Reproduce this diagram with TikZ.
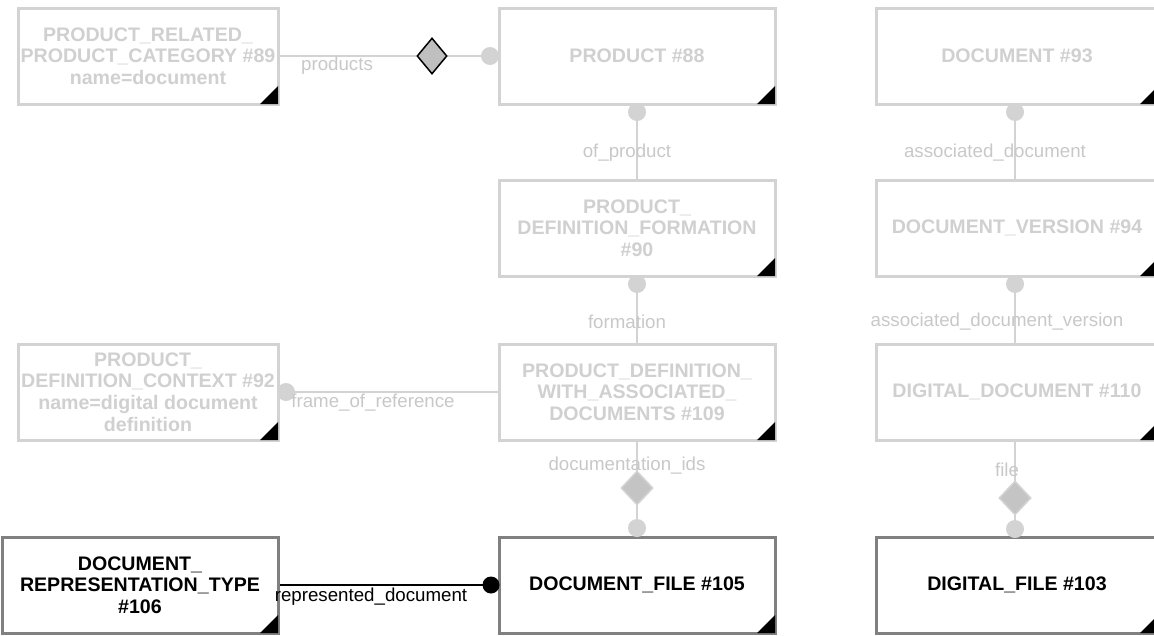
\documentclass[tikz,border=0pt]{standalone}
\usepackage{fontspec}
\setmainfont{Liberation Sans}
\usetikzlibrary{shapes.geometric}
\definecolor{lite}{HTML}{D3D3D3}
\definecolor{litetxt}{HTML}{D0D0D0}
\definecolor{lbl}{HTML}{C8C8C8}
\definecolor{darkb}{HTML}{808080}
\tikzset{
  ent/.style={draw, line width=3pt, fill=white, minimum height=96pt, inner sep=0pt, align=center,
    font=\fontsize{19.6pt}{21.7pt}\selectfont\bfseries},
  faded/.style={ent, draw=lite, text=litetxt},
  solid box/.style={ent, draw=darkb, text=black},
  conn/.style={draw=lite, line width=2pt},
  bconn/.style={draw=black, line width=2pt},
  lab/.style={font=\fontsize{18.7pt}{20pt}\selectfont, text=lbl, inner sep=0pt},
  blab/.style={lab, text=black},
  dot/.style={circle, fill=lite, minimum size=18pt, inner sep=0pt},
  bdot/.style={circle, fill=black, minimum size=17pt, inner sep=0pt},
  dmd/.style={diamond, fill=black!25, draw=black, line width=1.5pt, minimum width=30pt, minimum height=36pt, inner sep=0pt},
  gdmd/.style={diamond, fill=black!23, draw=lite, line width=1.5pt, minimum width=32pt, minimum height=34pt, inner sep=0pt},
}
\begin{document}
\begin{tikzpicture}[x=1pt,y=-1pt]
\useasboundingbox (0,0) rectangle (1154,635);
% connectors (under boxes)
\coordinate (c89) at (278,56);
\coordinate (c88) at (499,56);
\draw[conn] (c89) -- (c88);
\coordinate (a88) at (637,104);
\coordinate (a90t) at (637,180);
\draw[conn] (a88) -- (a90t);
\coordinate (a90b) at (637,276);
\coordinate (a109t) at (637,344);
\draw[conn] (a90b) -- (a109t);
\coordinate (c92) at (278,392);
\coordinate (c109) at (499,392);
\draw[conn] (c92) -- (c109);
\coordinate (a109b) at (637,440);
\coordinate (a105t) at (637,537);
\draw[conn] (a109b) -- (a105t);
\coordinate (a93) at (1015,104);
\coordinate (a94t) at (1015,180);
\draw[conn] (a93) -- (a94t);
\coordinate (a94b) at (1015,276);
\coordinate (a110t) at (1015,344);
\draw[conn] (a94b) -- (a110t);
\coordinate (a110b) at (1015,440);
\coordinate (a103t) at (1015,537);
\draw[conn] (a110b) -- (a103t);
\coordinate (c106) at (278,585);
\coordinate (c105) at (499,585);
\draw[bconn] (c106) -- (c105);
% boxes
\node[faded, minimum width=260pt] (n89) at (148,56) {PRODUCT\_RELATED\_\\PRODUCT\_CATEGORY \#89\\name=document};
\node[faded, minimum width=276pt] (n88) at (637,56) {PRODUCT \#88};
\node[faded, minimum width=282pt] (n93) at (1017,56) {DOCUMENT \#93};
\node[faded, minimum width=276pt] (n90) at (637,228) {PRODUCT\_\\DEFINITION\_FORMATION\\\#90};
\node[faded, minimum width=282pt] (n94) at (1017,228) {DOCUMENT\_VERSION \#94};
\node[faded, minimum width=260pt] (n92) at (148,392) {PRODUCT\_\\DEFINITION\_CONTEXT \#92\\name=digital document\\definition};
\node[faded, minimum width=276pt] (n109) at (637,392) {PRODUCT\_DEFINITION\_\\WITH\_ASSOCIATED\_\\DOCUMENTS \#109};
\node[faded, minimum width=282pt] (n110) at (1017,392) {DIGITAL\_DOCUMENT \#110};
\node[solid box, minimum width=276pt] (n106) at (140,585) {DOCUMENT\_\\REPRESENTATION\_TYPE\\\#106};
\node[solid box, minimum width=276pt] (n105) at (637,585) {DOCUMENT\_FILE \#105};
\node[solid box, minimum width=282pt] (n103) at (1017,585) {DIGITAL\_FILE \#103};
% corner triangles
\foreach \n in {n89,n88,n93,n90,n94,n92,n109,n110,n106,n105,n103}{
  \fill[black] ([xshift=-1.5pt,yshift=1.5pt]\n.south east) -- ++(-18pt,0pt) -- ++(18pt,18pt) -- cycle;
}
% end markers
\node[dmd] (d1) at (432,56) {};
\node[dot] (o1) at (490,56) {};
\node[dot] (o2) at (637,112) {};
\node[dot] (o3) at (637,284) {};
\node[dot] (o4) at (286,392) {};
\node[gdmd] (d2) at (637,488) {};
\node[dot] (o5) at (637,528) {};
\node[dot] (o6) at (1015,112) {};
\node[dot] (o7) at (1015,284) {};
\node[gdmd] (d3) at (1015,498) {};
\node[dot] (o8) at (1015,529) {};
\node[bdot] (o9) at (491,585) {};
% labels
\node[lab] (l1) at (337,66) {products};
\node[lab] (l2) at (627,153) {of\_product};
\node[lab] (l3) at (627,322) {formation};
\node[lab] (l4) at (373,403) {frame\_of\_reference};
\node[lab] (l5) at (627,466) {documentation\_ids};
\node[lab] (l6) at (995,153) {associated\_document};
\node[lab] (l7) at (997,322) {associated\_document\_version};
\node[lab] (l8) at (1007,470) {file};
\node[blab] (l9) at (371,597) {represented\_document};
\end{tikzpicture}
\end{document}
